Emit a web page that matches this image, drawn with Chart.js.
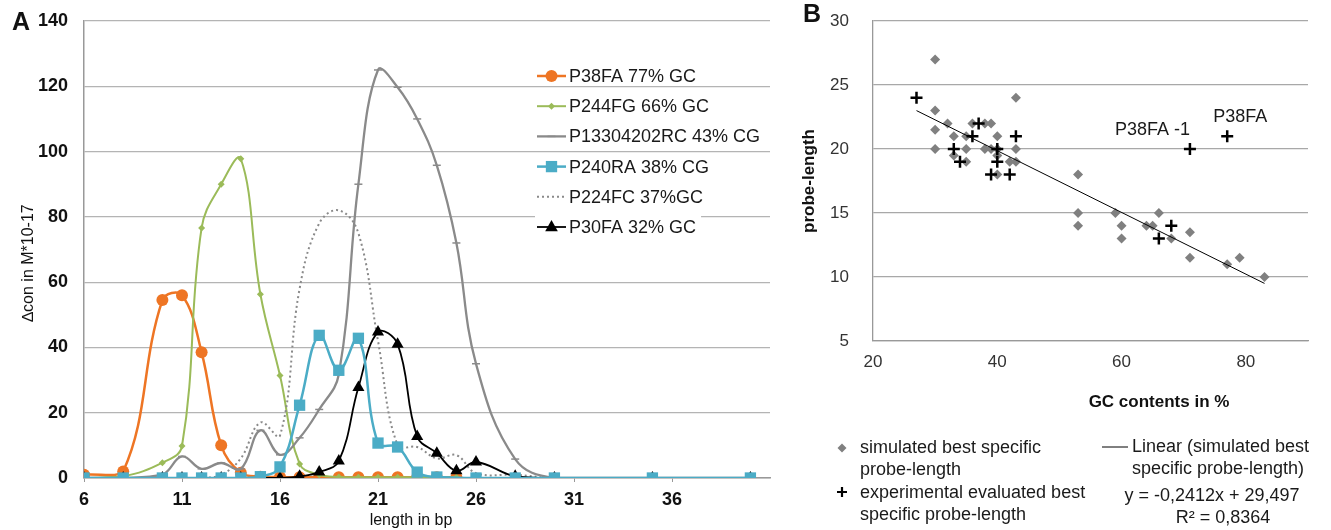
<!DOCTYPE html>
<html lang="en">
<head>
<meta charset="UTF-8" />
<title>Probe length vs GC content</title>
<script src="https://cdn.jsdelivr.net/npm/chart.js@4.4.1/dist/chart.umd.min.js"></script>
<style>
  body { margin: 0; background: #fff; }
  #wrap { position: relative; width: 1331px; height: 530px; }
  canvas { position: absolute; left: 0; top: 0; }
</style>
</head>
<body>
<div id="wrap">
  <canvas id="chartA" width="1331" height="530"></canvas>
  <canvas id="chartB" width="1331" height="530"></canvas>
</div>
<script>
// ---- panel A: concentration difference per probe length ----
const lengths = [6, 8, 10, 11, 12, 13, 14, 15, 16, 17, 18, 19, 20, 21, 22, 23, 24, 25, 26, 28, 30, 35, 40]
const p38fa = [1, 2, 54.5, 56, 38.5, 10, 1.6, 0.4, 0.3, 0.2, 0.2, 0.2, 0.2, 0.2, 0.2, 0.2, 0.2, 0.2, null, null, null, null, null]
const p244fg = [0, 0.5, 4.7, 9.8, 76.6, 90, 97.8, 56.3, 31.4, 4.3, 1, 0.3, 0.2, 0.2, 0.2, 0.2, 0.2, 0.2, null, null, null, null, null]
const p13304202rc = [0, 0, 1, 6.6, 2.8, 4.6, 2.8, 14.6, 7.1, 12.3, 21, 31.7, 90, 125, 119.7, 110, 95.8, 72, 35, 5.8, 0, 0, 0]
const p240ra = [0, 0, 0, 0, 0, 0, 0, 0.4, 3.4, 22.3, 43.7, 33, 42.8, 10.7, 9.5, 1.8, 0.3, null, 0, 0, 0, 0, 0]
const p224fc = [0, 0, 0, 0, 0, 1, 6, 17, 13, 58, 78, 82, 75, 42, 10, 9.5, 6, 7, 1.5, 1, 0, 0, 0]
const p30fa = [0, 0, 0, 0, 0, 0, 0, 0, 0, 0.5, 1.8, 5.2, 27.7, 44.7, 41, 12.7, 7.6, 2.2, 4.9, 0.5, 0, 0, 0]
const seriesNames = ["P38FA 77% GC", "P244FG 66% GC", "P13304202RC 43% CG", "P240RA 38% CG", "P224FC 37%GC", "P30FA 32% GC"]
const lengthTicks = [6, 11, 16, 21, 26, 31, 36]
const conTicks = [0, 20, 40, 60, 80, 100, 120, 140]

// ---- panel B: best probe length vs GC content ----
const gcSim = [30, 30, 30, 30, 32, 33, 33, 35, 35, 35, 36, 38, 39, 38, 39, 40, 40, 40, 40, 42, 43, 43, 43, 53, 53, 53, 59, 60, 60, 64, 65, 66, 68, 71, 71, 77, 79, 83]
const lenSim = [27, 23, 21.5, 20, 22, 21, 19.5, 21, 20, 19, 22, 22, 22, 20, 20, 21, 20, 19.5, 18, 19, 19, 20, 24, 18, 15, 14, 15, 14, 13, 14, 14, 15, 13, 13.5, 11.5, 11, 11.5, 10]
const gcExp = [27, 33, 34, 36, 37, 39, 40, 40, 42, 43, 66, 68, 71, 77]
const lenExp = [24, 20, 19, 21, 22, 18, 20, 19, 18, 21, 13, 14, 20, 21]
const trendGc = [27, 83]
const trendLen = [23.0, 9.5]
const gcTicks = [20, 40, 60, 80]
const probeTicks = [5, 10, 15, 20, 25, 30]
const probeLabels = ["P38FA -1", "P38FA"]
const probeLabelIdx = [12, 13]
const trendEquation = "y = -0,2412x + 29,497"
const trendR2 = "R² = 0,8364"

const FONT = "'Liberation Sans', Arial, sans-serif"

function xy(xs, ys) {
  return xs.map((x, i) => ({ x: x, y: ys[i] }))
}

function marker(ctx, style, r, x, y) {
  ctx.beginPath()
  if (style === "circle") {
    ctx.arc(x, y, r, 0, Math.PI * 2)
    ctx.fill()
  } else if (style === "rectRot") {
    ctx.moveTo(x - r, y); ctx.lineTo(x, y - r); ctx.lineTo(x + r, y); ctx.lineTo(x, y + r)
    ctx.closePath(); ctx.fill()
  } else if (style === "rect") {
    const s = r * Math.SQRT1_2
    ctx.rect(x - s, y - s, 2 * s, 2 * s); ctx.fill()
  } else if (style === "triangle") {
    ctx.moveTo(x, y - r); ctx.lineTo(x + r * 0.9, y + r * 0.6); ctx.lineTo(x - r * 0.9, y + r * 0.6)
    ctx.closePath(); ctx.fill()
  } else if (style === "line") {
    ctx.moveTo(x - r, y); ctx.lineTo(x + r, y); ctx.stroke()
  } else if (style === "cross") {
    ctx.moveTo(x - r, y); ctx.lineTo(x + r, y); ctx.moveTo(x, y - r); ctx.lineTo(x, y + r); ctx.stroke()
  }
}

const decoA = {
  id: "decoA",
  afterDraw(chart) {
    const ctx = chart.ctx
    ctx.save()
    ctx.fillStyle = "#111"
    ctx.textBaseline = "middle"
    ctx.textAlign = "center"
    ctx.font = "bold 25px " + FONT
    ctx.fillText("A", 21, 23)
    ctx.font = "16px " + FONT
    ctx.fillText("length in bp", 411, 521)
    ctx.save()
    ctx.translate(29, 263)
    ctx.rotate(-Math.PI / 2)
    ctx.fillText("\u2206con in M*10-17", 0, 0)
    ctx.restore()

    // legend inside the plot
    ctx.font = "18px " + FONT
    ctx.textAlign = "left"
    chart.data.datasets.forEach((ds, i) => {
      const y = 76 + i * 30.2
      const w = ctx.measureText(ds.label).width
      ctx.fillStyle = "#fff"
      ctx.fillRect(535, y - 12, 569 + w + 5 - 535, 19.5)
      ctx.strokeStyle = ds.borderColor
      ctx.lineWidth = ds.borderWidth
      ctx.setLineDash(ds.borderDash || [])
      ctx.beginPath(); ctx.moveTo(537, y); ctx.lineTo(566, y); ctx.stroke()
      ctx.setLineDash([])
      if (ds.pointRadius > 0) {
        ctx.fillStyle = ds.backgroundColor
        ctx.lineWidth = 1.5
        marker(ctx, ds.pointStyle, ds.pointRadius, 551.5, y)
      }
      ctx.fillStyle = "#1a1a1a"
      ctx.fillText(ds.label, 569, y + 1)
    })
    ctx.restore()
  }
}

const decoB = {
  id: "decoB",
  afterDraw(chart) {
    const ctx = chart.ctx
    const sx = chart.scales.x, sy = chart.scales.y
    ctx.save()
    ctx.fillStyle = "#111"
    ctx.textBaseline = "middle"
    ctx.textAlign = "center"
    ctx.font = "bold 25px " + FONT
    ctx.fillText("B", 812, 15)
    ctx.font = "bold 17px " + FONT
    ctx.fillText("GC contents in %", 1159, 402)
    ctx.save()
    ctx.translate(809, 181)
    ctx.rotate(-Math.PI / 2)
    ctx.fillText("probe-length", 0, 0)
    ctx.restore()

    // probe annotations next to their points
    ctx.font = "18px " + FONT
    ctx.fillStyle = "#1a1a1a"
    probeLabelIdx.forEach((idx, k) => {
      const px = sx.getPixelForValue(gcExp[idx])
      const py = sy.getPixelForValue(lenExp[idx])
      if (k === 0) { ctx.textAlign = "right"; ctx.fillText(probeLabels[k], px, py - 19) }
      else { ctx.textAlign = "left"; ctx.fillText(probeLabels[k], px - 14, py - 19) }
    })

    // legend below the plot
    ctx.textAlign = "left"
    ctx.fillStyle = "#808080"
    marker(ctx, "rectRot", 4.5, 842, 448)
    ctx.strokeStyle = "#000"
    ctx.lineWidth = 2.2
    marker(ctx, "cross", 5, 842, 492)
    ctx.lineWidth = 1
    ctx.beginPath(); ctx.moveTo(1102, 447); ctx.lineTo(1128, 447); ctx.stroke()
    ctx.fillStyle = "#1a1a1a"
    ctx.fillText("simulated best specific", 860, 448)
    ctx.fillText("probe-length", 860, 470)
    ctx.fillText("experimental evaluated best", 860, 493)
    ctx.fillText("specific probe-length", 860, 515)
    ctx.fillText("Linear (simulated best", 1132, 447)
    ctx.fillText("specific probe-length)", 1132, 469)
    ctx.textAlign = "center"
    ctx.fillText(trendEquation, 1212, 496)
    ctx.fillText(trendR2, 1223, 518)
    ctx.restore()
  }
}

function fixedTicks(list) {
  return scale => { scale.ticks = list.map(v => ({ value: v })) }
}

// fixed axis box sizes; drop the label overhang padding so the plot edges stay put
function fixedWidth(w) {
  return s => { s.width = w; s.paddingTop = 0; s.paddingBottom = 0 }
}
function fixedHeight(h) {
  return s => { s.height = h; s.paddingLeft = 0; s.paddingRight = 0 }
}

new Chart(document.getElementById("chartA"), {
  type: "line",
  data: {
    datasets: [
      { label: seriesNames[0], data: xy(lengths, p38fa), borderColor: "#EE7524", backgroundColor: "#EE7524",
        borderWidth: 2.5, pointStyle: "circle", pointRadius: 6, pointBorderWidth: 0, order: 6 },
      { label: seriesNames[1], data: xy(lengths, p244fg), borderColor: "#9BBB59", backgroundColor: "#9BBB59",
        borderWidth: 2, pointStyle: "rectRot", pointRadius: 3.5, pointBorderWidth: 0, order: 5 },
      { label: seriesNames[2], data: xy(lengths, p13304202rc), borderColor: "#8a8a8a", backgroundColor: "#8a8a8a",
        borderWidth: 2.3, pointStyle: "line", pointRadius: 4, pointBorderWidth: 1.5, order: 4 },
      { label: seriesNames[3], data: xy(lengths, p240ra), borderColor: "#4BACC6", backgroundColor: "#4BACC6",
        borderWidth: 2.5, pointStyle: "rect", pointRadius: 8, pointBorderWidth: 0, spanGaps: true, order: 1 },
      { label: seriesNames[4], data: xy(lengths, p224fc), borderColor: "#8a8a8a", backgroundColor: "#8a8a8a",
        borderWidth: 2, borderDash: [2, 3], pointRadius: 0, order: 3 },
      { label: seriesNames[5], data: xy(lengths, p30fa), borderColor: "#000", backgroundColor: "#000",
        borderWidth: 1.8, pointStyle: "triangle", pointRadius: 7, pointBorderWidth: 0, order: 2 }
    ]
  },
  options: {
    responsive: false,
    animation: false,
    elements: { line: { tension: 0.4 } },
    layout: { padding: { top: 21, right: 561, left: 0, bottom: 0 } },
    plugins: { legend: { display: false }, tooltip: { enabled: false } },
    scales: {
      x: {
        type: "linear", min: 6, max: 41,
        afterBuildTicks: fixedTicks(lengthTicks),
        afterFit: fixedHeight(52),
        grid: { drawOnChartArea: false, drawTicks: true, tickLength: 4, color: "#999" },
        border: { color: "#999", width: 1.5 },
        ticks: { padding: 7, color: "#111", font: { family: FONT, size: 18, weight: "bold" } }
      },
      y: {
        min: 0, max: 140,
        afterBuildTicks: fixedTicks(conTicks),
        afterFit: fixedWidth(84),
        grid: { color: "#b4b4b4", lineWidth: 1.2, drawTicks: false },
        border: { color: "#999", width: 1.5 },
        ticks: { padding: 16, color: "#111", font: { family: FONT, size: 18, weight: "bold" } }
      }
    }
  },
  plugins: [decoA]
})

new Chart(document.getElementById("chartB"), {
  type: "scatter",
  data: {
    datasets: [
      { label: "experimental evaluated best specific probe-length", data: xy(gcExp, lenExp),
        pointStyle: "cross", pointRadius: 6, pointBorderWidth: 2.5, borderColor: "#000", backgroundColor: "#000", order: 1 },
      { label: "Linear (simulated best specific probe-length)", type: "line", data: xy(trendGc, trendLen),
        borderColor: "#000", borderWidth: 1, pointRadius: 0, order: 2 },
      { label: "simulated best specific probe-length", data: xy(gcSim, lenSim),
        pointStyle: "rectRot", pointRadius: 5, pointBorderWidth: 0, borderColor: "#808080", backgroundColor: "#808080", order: 3 }
    ]
  },
  options: {
    responsive: false,
    animation: false,
    layout: { padding: { top: 21, right: 23, left: 790, bottom: 0 } },
    plugins: { legend: { display: false }, tooltip: { enabled: false } },
    scales: {
      x: {
        type: "linear", min: 20, max: 90,
        afterBuildTicks: fixedTicks(gcTicks),
        afterFit: fixedHeight(189),
        grid: { drawOnChartArea: false, drawTicks: false },
        border: { color: "#999", width: 1.3 },
        ticks: { padding: 11, color: "#333", font: { family: FONT, size: 17 } }
      },
      y: {
        min: 5, max: 30,
        afterBuildTicks: fixedTicks(probeTicks),
        afterFit: fixedWidth(83),
        grid: { color: "#a8a8a8", lineWidth: 1.2, drawTicks: false },
        border: { color: "#999", width: 1.3 },
        ticks: { padding: 24, color: "#333", font: { family: FONT, size: 17 } }
      }
    }
  },
  plugins: [decoB]
})
</script>
</body>
</html>
